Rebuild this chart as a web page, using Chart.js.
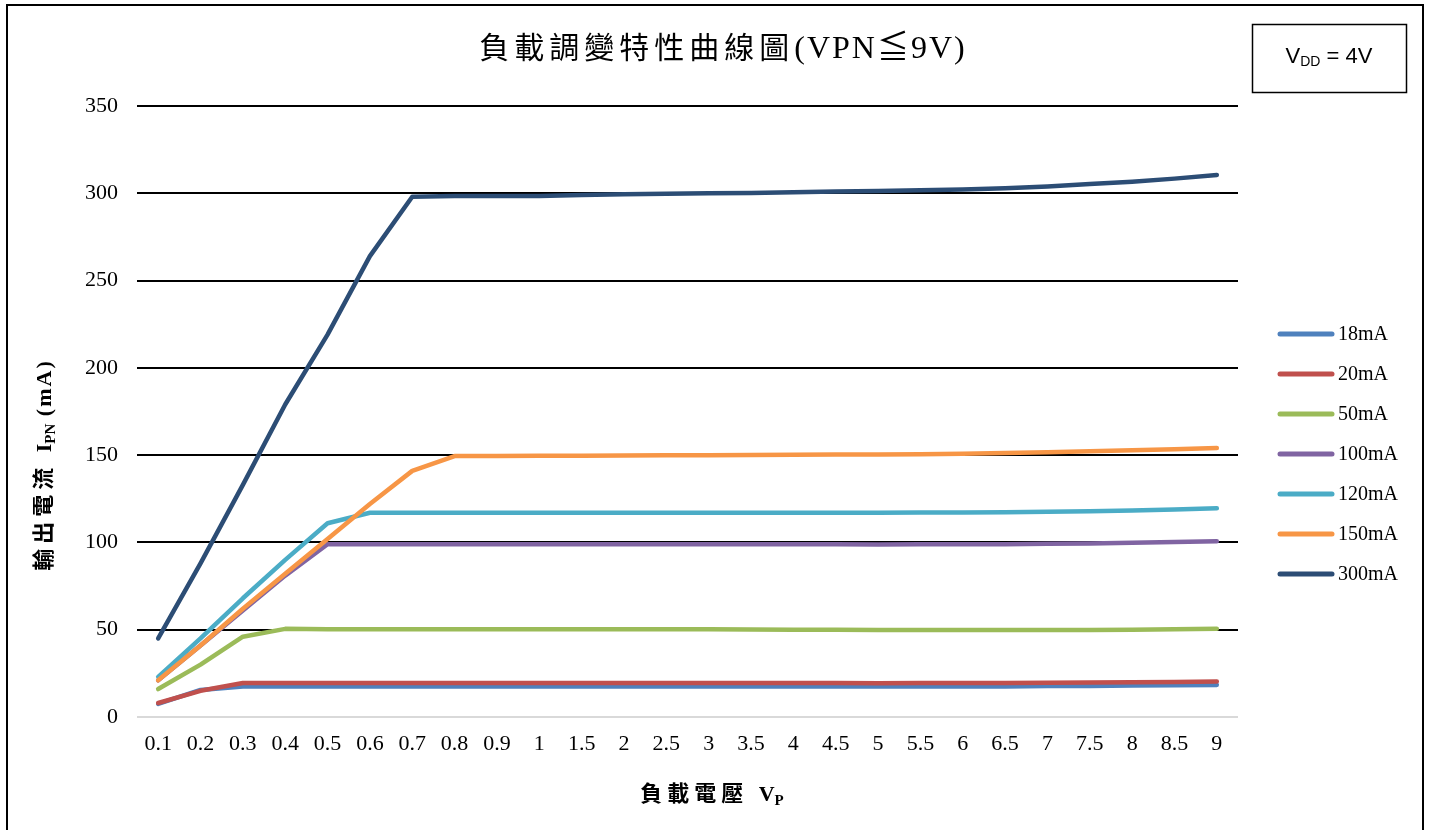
<!DOCTYPE html>
<html>
<head>
<meta charset="utf-8">
<script src="https://cdn.jsdelivr.net/npm/chart.js@4/dist/chart.umd.min.js"></script>
<style>
    html, body { margin: 0; padding: 0; background: #fff; }
    #wrap { width: 1430px; height: 830px; }
</style>
</head>
<body>
<div id="wrap"><canvas id="loadChart" width="1430" height="830"></canvas></div>
<script>
// category labels of the load voltage axis
const voltages = ["0.1", "0.2", "0.3", "0.4", "0.5", "0.6", "0.7", "0.8", "0.9", "1",
    "1.5", "2", "2.5", "3", "3.5", "4", "4.5", "5", "5.5", "6", "6.5", "7", "7.5", "8", "8.5", "9"];

const seriesNames = ["18mA", "20mA", "50mA", "100mA", "120mA", "150mA", "300mA"];
const seriesColors = ["#4f81bd", "#c0504d", "#9bbb59", "#8064a2", "#4bacc6", "#f79646", "#2c4d75"];

const i18mA = [7.5, 15.5, 17.5, 17.5, 17.5, 17.5, 17.5, 17.5, 17.5, 17.5,
    17.5, 17.5, 17.5, 17.5, 17.5, 17.5, 17.5, 17.5, 17.5, 17.5, 17.5, 17.7, 17.8, 18, 18.2, 18.4];
const i20mA = [8, 15, 19.5, 19.5, 19.5, 19.5, 19.5, 19.5, 19.5, 19.5,
    19.5, 19.5, 19.5, 19.5, 19.5, 19.5, 19.5, 19.3, 19.5, 19.5, 19.5, 19.6, 19.7, 19.9, 20.1, 20.3];
const i50mA = [16, 30, 46, 50.5, 50.3, 50.3, 50.3, 50.3, 50.3, 50.3,
    50.3, 50.2, 50.2, 50.2, 50.1, 50, 50, 49.8, 49.8, 49.8, 49.8, 49.8, 49.8, 50, 50.2, 50.5];
const i100mA = [21, 41, 61, 81, 99, 99, 99, 99, 99, 99,
    99, 99, 99, 99, 99, 99, 99, 98.8, 99, 99, 99, 99.2, 99.4, 99.8, 100.2, 100.7];
const i120mA = [23, 45, 68, 90, 111, 117, 117, 117, 117, 117,
    117, 117, 117, 117, 117, 117, 117, 117, 117.1, 117.2, 117.3, 117.6, 117.9, 118.3, 118.9, 119.6];
const i150mA = [21, 41, 62, 82, 102, 122, 141, 149.5, 149.5, 149.6,
    149.7, 149.8, 149.9, 150, 150.1, 150.2, 150.3, 150.4, 150.5, 150.8, 151.2, 151.7, 152.2, 152.8, 153.4, 154.1];
const i300mA = [45, 88, 133, 179, 219, 264, 298, 298.5, 298.5, 298.5,
    299, 299.5, 299.7, 300, 300.2, 300.6, 301, 301.3, 301.7, 302.1, 302.9, 303.9, 305.3, 306.6, 308.4, 310.5];

const yTicks = [0, 50, 100, 150, 200, 250, 300, 350];

const serifFont = '"Liberation Serif", "Noto Sans CJK TC", serif';
const sansFont = '"Liberation Sans", Arial, sans-serif';

const seriesData = [i18mA, i20mA, i50mA, i100mA, i120mA, i150mA, i300mA];

let datasets = [];
for (let i = 0; i < seriesNames.length; i++) {
    datasets.push({
        label: seriesNames[i],
        data: seriesData[i],
        borderColor: seriesColors[i],
        backgroundColor: seriesColors[i],
        borderWidth: 4.5,
        borderCapStyle: 'round',
        borderJoinStyle: 'round',
        pointRadius: 0,
        pointHoverRadius: 0,
        tension: 0,
        fill: false,
        // later series drawn on top, like the original
        order: seriesNames.length - i
    });
}

// draws a label made of parts (subscripts, spaced CJK), left aligned at x
function drawSub(ctx, parts, x, y) {
    let cx = x;
    for (let p of parts) {
        ctx.font = p.font;
        ctx.letterSpacing = p.ls || '0px';
        ctx.fillText(p.text, cx, y + (p.dy || 0));
        cx += ctx.measureText(p.text).width;
    }
    ctx.letterSpacing = '0px';
    return cx - x;
}

function measureSub(ctx, parts) {
    let w = 0;
    for (let p of parts) {
        ctx.font = p.font;
        ctx.letterSpacing = p.ls || '0px';
        w += ctx.measureText(p.text).width;
    }
    ctx.letterSpacing = '0px';
    return w;
}

const decorations = {
    id: 'decorations',
    afterDraw(chart) {
        const ctx = chart.ctx;
        ctx.save();

        // outer frame
        ctx.strokeStyle = '#000';
        ctx.lineWidth = 2;
        ctx.strokeRect(7, 5, 1416, 840);

        // title
        ctx.fillStyle = '#000';
        ctx.textBaseline = 'middle';
        ctx.textAlign = 'left';
        let tt = [
            { text: '負載調變特性曲線圖', font: '30px ' + serifFont, ls: '5px' },
            { text: '(VPN≦9V)', font: '32px ' + serifFont, ls: '2px' }
        ];
        let tw = measureSub(ctx, tt);
        drawSub(ctx, tt, 723 - tw / 2, 50);

        // VDD box
        ctx.lineWidth = 1.5;
        ctx.strokeRect(1252.5, 24.5, 154, 68);
        let vdd = [
            { text: 'V', font: '22px ' + sansFont },
            { text: 'DD', font: '14px ' + sansFont, dy: 5 },
            { text: ' = 4V', font: '22px ' + sansFont }
        ];
        let vw = measureSub(ctx, vdd);
        drawSub(ctx, vdd, 1329 - vw / 2, 57);

        // x axis title
        let xt = [
            { text: '負載電壓 ', font: 'bold 22px ' + serifFont, ls: '5px' },
            { text: 'V', font: 'bold 22px ' + serifFont },
            { text: 'P', font: 'bold 15px ' + serifFont, dy: 6 }
        ];
        let xw = measureSub(ctx, xt);
        drawSub(ctx, xt, 712 - xw / 2, 795);

        // y axis title (rotated)
        ctx.save();
        ctx.translate(45, 465);
        ctx.rotate(-Math.PI / 2);
        let yt = [
            { text: '輸出電流 ', font: 'bold 22px ' + serifFont, ls: '5px' },
            { text: 'I', font: 'bold 22px ' + serifFont },
            { text: 'PN', font: 'bold 15px ' + serifFont, dy: 6 },
            { text: ' (mA)', font: 'bold 22px ' + serifFont, ls: '2px' }
        ];
        let yw = measureSub(ctx, yt);
        drawSub(ctx, yt, -yw / 2, 0);
        ctx.restore();

        // legend
        ctx.font = '20px ' + serifFont;
        ctx.lineCap = 'round';
        for (let i = 0; i < chart.data.datasets.length; i++) {
            let ds = chart.data.datasets[i];
            let y = 334 + 40 * i;
            ctx.strokeStyle = ds.borderColor;
            ctx.lineWidth = 5;
            ctx.beginPath();
            ctx.moveTo(1280, y);
            ctx.lineTo(1332, y);
            ctx.stroke();
            ctx.fillStyle = '#000';
            ctx.fillText(ds.label, 1338, y + 1);
        }
        ctx.restore();
    }
};

const ctx = document.getElementById('loadChart').getContext('2d');
const myChart = new Chart(ctx, {
    type: 'line',
    data: {
        labels: voltages,
        datasets: datasets
    },
    options: {
        responsive: false,
        animation: false,
        events: [],
        layout: {
            padding: { left: 37, right: 192, top: 106, bottom: 53 }
        },
        plugins: {
            legend: { display: false },
            title: { display: false },
            tooltip: { enabled: false }
        },
        scales: {
            x: {
                type: 'category',
                offset: true,
                grid: { display: false, drawTicks: false },
                border: { display: false },
                ticks: {
                    color: '#000',
                    padding: 14,
                    maxRotation: 0,
                    autoSkip: false,
                    font: { family: serifFont, size: 22 }
                },
                afterFit: function (scale) { scale.height = 60; }
            },
            y: {
                min: 0,
                max: 350,
                afterBuildTicks: function (scale) {
                    scale.ticks = yTicks.map(v => ({ value: v }));
                },
                grid: {
                    drawTicks: false,
                    lineWidth: 2,
                    color: function (c) { return c.tick && c.tick.value === 0 ? '#d9d9d9' : '#000'; }
                },
                border: { display: false },
                ticks: {
                    color: '#000',
                    padding: 19,
                    font: { family: serifFont, size: 22 }
                },
                afterFit: function (scale) { scale.width = 100; }
            }
        }
    },
    plugins: [decorations]
});
</script>
</body>
</html>
